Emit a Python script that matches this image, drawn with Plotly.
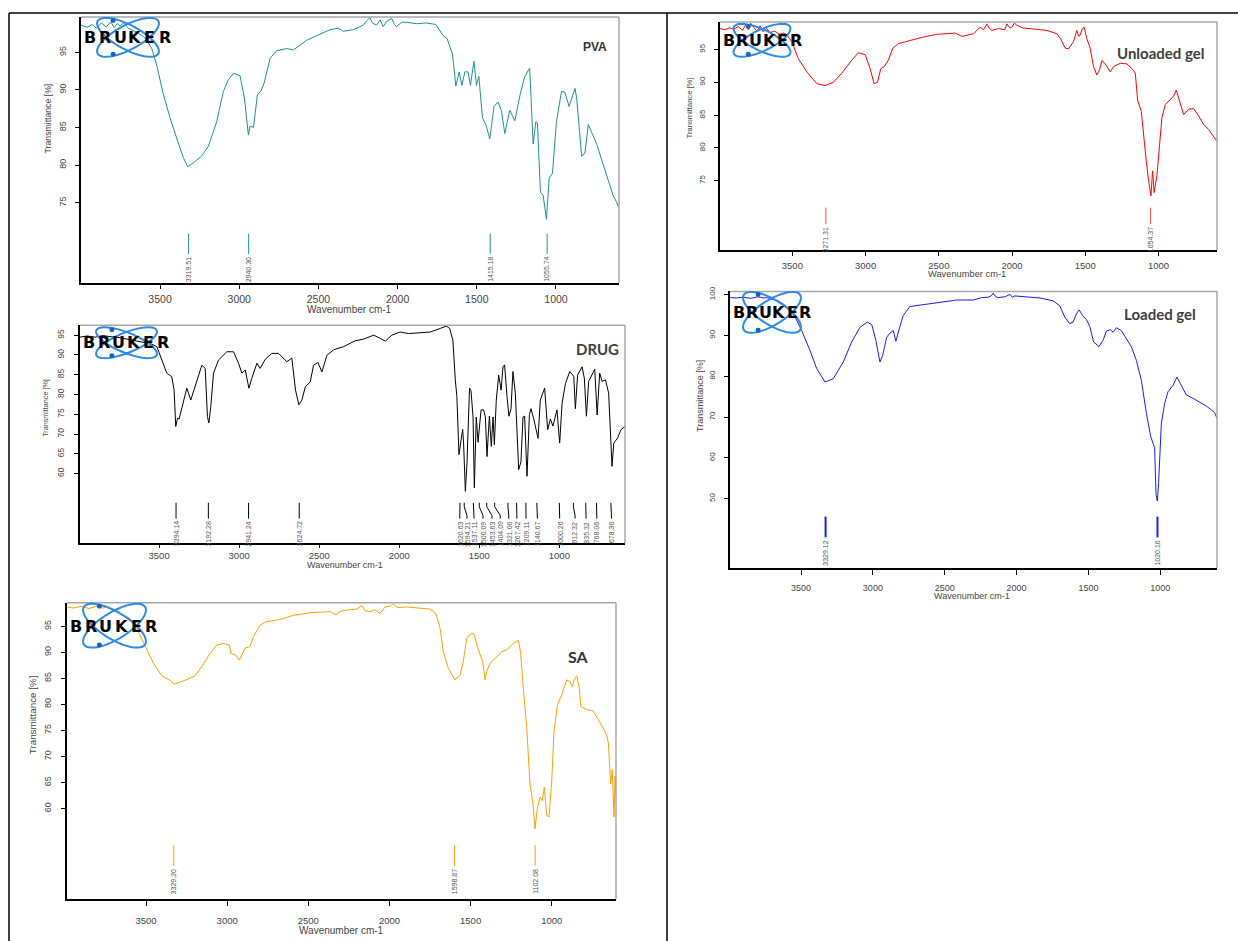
import math
import plotly.graph_objects as go

W, H = 1238, 941
SHIFT_Y = 3  # small global vertical correction

# ---------------- DATA ----------------
pva_wn = [3999, 3960, 3930, 3900, 3870, 3840, 3810, 3790, 3770, 3752, 3730, 3700, 3670, 3640, 3620, 3605, 3580, 3552,
          3521, 3479, 3437, 3395, 3353, 3326, 3290, 3238, 3195, 3142, 3100, 3070, 3037, 2995, 2967, 2942, 2931, 2910,
          2885, 2864, 2843, 2805, 2764, 2700, 2658, 2574, 2490, 2427, 2374, 2343, 2280, 2250, 2217, 2195, 2175, 2160,
          2133, 2110, 2091, 2070, 2038, 2020, 2006, 1975, 1943, 1880, 1820, 1758, 1712, 1687, 1653, 1632, 1611, 1594,
          1575, 1555, 1540, 1518, 1502, 1487, 1464, 1443, 1418, 1391, 1366, 1344, 1323, 1292, 1260, 1224, 1197, 1166,
          1155, 1144, 1127, 1117, 1098, 1081, 1060, 1043, 1022, 997, 965, 944, 917, 880, 869, 838, 817, 796, 743, 701,
          670, 638, 620, 604]
pva_t = [98.6, 98.3, 98.7, 98.2, 98.9, 98.4, 99.0, 98.3, 98.8, 98.5, 98.9, 98.2, 97.9, 97.6, 97.3, 97.1, 96.5, 95.5,
         93.3, 89.4, 86.3, 83.6, 81.0, 79.8, 80.3, 81.2, 82.5, 85.8, 89.8, 91.3, 92.2, 91.9, 88.9, 84.0, 85.2, 85.0,
         89.4, 89.8, 90.9, 94.2, 95.2, 95.5, 95.3, 96.6, 97.4, 98.0, 98.2, 97.8, 98.0, 98.3, 98.6, 99.2, 99.6, 98.9,
         98.6, 99.3, 98.4, 99.1, 99.5, 98.7, 98.4, 99.0, 99.0, 98.8, 98.9, 98.7, 97.2, 96.8, 94.7, 90.5, 92.4, 90.6,
         92.4, 92.4, 90.6, 93.8, 90.6, 91.8, 86.3, 85.4, 83.5, 87.8, 88.4, 87.2, 84.2, 87.3, 85.9, 89.6, 91.8, 92.9,
         88.0, 82.8, 85.8, 85.6, 76.4, 76.0, 72.8, 78.3, 78.9, 85.8, 89.8, 89.7, 87.8, 90.2, 88.9, 81.2, 81.6, 85.4,
         82.8, 80.1, 77.9, 75.9, 75.2, 74.4]
pva_peaks = [3319.51, 2940.30, 1415.18, 1055.74]

drug_wn = [3994, 3950, 3900, 3850, 3800, 3750, 3700, 3650, 3600, 3550, 3514, 3483, 3452, 3421, 3406, 3396, 3385, 3375,
           3348, 3327, 3302, 3271, 3233, 3212, 3198, 3189, 3177, 3160, 3129, 3077, 3035, 3004, 2983, 2962, 2939, 2921,
           2889, 2869, 2837, 2796, 2754, 2702, 2671, 2648, 2627, 2608, 2587, 2556, 2535, 2508, 2483, 2452, 2410, 2348,
           2275, 2223, 2160, 2119, 2087, 2046, 1994, 1942, 1869, 1806, 1744, 1706, 1685, 1665, 1650, 1640, 1627, 1614,
           1604, 1598, 1587, 1577, 1567, 1561, 1552, 1539, 1531, 1519, 1508, 1489, 1473, 1462, 1452, 1437, 1425, 1414,
           1406, 1394, 1379, 1364, 1352, 1342, 1327, 1315, 1302, 1290, 1275, 1265, 1254, 1240, 1227, 1217, 1202, 1187,
           1177, 1160, 1144, 1133, 1119, 1092, 1073, 1056, 1040, 1015, 998, 983, 962, 935, 910, 900, 886, 858, 844, 831,
           817, 800, 779, 764, 748, 733, 712, 692, 681, 671, 660, 636, 615, 590]
drug_t = [94.5, 94.8, 94.5, 94.9, 94.6, 94.4, 94.0, 93.6, 93.3, 92.8, 92.1, 88.7, 85.4, 84.5, 81.1, 71.9, 74.0, 73.8,
          78.6, 81.6, 78.6, 82.8, 87.4, 86.6, 74.4, 72.8, 77.0, 85.4, 88.7, 90.8, 90.8, 87.9, 85.4, 86.2, 81.6, 84.1,
          87.9, 86.6, 88.9, 90.4, 90.4, 88.3, 89.2, 81.1, 77.4, 78.6, 81.9, 83.2, 87.4, 88.1, 85.7, 89.9, 91.3, 92.1,
          93.6, 94.0, 95.0, 94.2, 93.5, 95.0, 95.8, 95.4, 95.6, 95.8, 96.7, 97.3, 96.7, 93.7, 83.7, 79.5, 64.8, 68.7,
          71.2, 67.5, 55.5, 62.6, 77.8, 81.6, 81.0, 74.3, 56.4, 74.3, 67.9, 76.1, 76.1, 74.3, 64.3, 74.5, 66.9, 74.3,
          67.3, 78.6, 84.9, 81.1, 87.0, 87.5, 79.5, 74.5, 76.4, 85.8, 80.3, 71.2, 61.0, 62.9, 74.3, 74.5, 59.3, 74.9,
          76.4, 73.8, 70.4, 68.9, 78.6, 81.6, 71.1, 73.8, 72.0, 76.1, 67.7, 77.8, 82.8, 85.8, 84.6, 76.4, 84.9, 87.0,
          84.1, 74.5, 83.3, 84.6, 86.4, 74.8, 85.4, 83.3, 83.7, 80.3, 71.9, 61.8, 67.7, 69.0, 71.1, 71.9]
drug_peaks = [3394.14, 3192.28, 2941.24, 2624.72, 1620.63, 1594.21, 1537.11, 1500.09, 1453.63, 1404.09, 1321.06,
              1267.42, 1209.11, 1140.67, 1000.26, 912.32, 835.32, 768.06, 678.36]
drug_label_wn = [3394.14, 3192.28, 2941.24, 2624.72, 1622, 1577, 1533, 1477, 1421, 1369, 1316,
                 1265, 1208, 1137, 998, 902, 833, 766, 674]

sa_wn = [3987, 3950, 3900, 3850, 3800, 3770, 3742, 3700, 3660, 3630, 3598, 3557, 3506, 3455, 3403, 3352, 3325, 3270,
         3198, 3156, 3105, 3064, 3023, 2986, 2978, 2950, 2925, 2910, 2890, 2860, 2839, 2797, 2767, 2674, 2592, 2489,
         2366, 2330, 2300, 2263, 2200, 2171, 2150, 2120, 2090, 2058, 2028, 1995, 1976, 1950, 1894, 1820, 1750, 1713,
         1688, 1668, 1637, 1596, 1565, 1545, 1524, 1493, 1479, 1452, 1425, 1411, 1401, 1380, 1349, 1308, 1277, 1237,
         1206, 1192, 1175, 1154, 1134, 1117, 1103, 1089, 1072, 1058, 1046, 1031, 1017, 1000, 986, 965, 939, 908, 888,
         873, 861, 846, 830, 821, 784, 744, 713, 682, 662, 651, 637, 627, 616, 610, 604]
sa_t = [98.7, 98.5, 98.8, 98.4, 98.9, 98.5, 98.7, 98.0, 97.4, 97.0, 96.5, 94.6, 91.4, 87.9, 85.5, 84.6, 83.9, 84.5,
        85.5, 87.3, 89.8, 91.4, 91.7, 91.4, 89.8, 89.5, 88.5, 89.5, 90.8, 91.1, 93.0, 95.2, 95.8, 96.3, 97.1, 97.6,
        97.8, 97.2, 97.9, 98.1, 98.3, 99.0, 98.0, 97.8, 98.2, 97.4, 98.7, 98.9, 99.3, 98.6, 98.7, 98.5, 98.3, 97.4,
        94.6, 90.1, 86.9, 84.7, 85.6, 88.2, 92.7, 93.7, 93.4, 90.5, 88.2, 84.7, 86.3, 87.9, 88.9, 90.1, 90.5, 91.7,
        92.3, 90.1, 83.1, 75.5, 64.7, 61.3, 56.1, 60.0, 62.2, 61.5, 64.1, 58.7, 58.4, 65.3, 74.8, 79.9, 81.8, 84.7, 84.4,
        83.4, 84.7, 85.5, 83.1, 79.6, 79.0, 78.7, 77.1, 75.5, 74.2, 72.6, 64.7, 67.5, 58.4, 66.2, 62.4]
sa_peaks = [3329.20, 1598.87, 1102.08]

ul_wn = [3994, 3960, 3930, 3900, 3870, 3840, 3820, 3800, 3785, 3766, 3740, 3720, 3700, 3675, 3652, 3620, 3590, 3560,
         3538, 3504, 3459, 3402, 3333, 3277, 3220, 3162, 3094, 3049, 3003, 2969, 2942, 2919, 2896, 2873, 2844, 2814,
         2776, 2696, 2605, 2514, 2389, 2343, 2300, 2263, 2218, 2195, 2172, 2155, 2138, 2092, 2050, 2035, 2015, 2001,
         1985, 1967, 1930, 1876, 1820, 1762, 1694, 1671, 1637, 1614, 1581, 1558, 1545, 1535, 1520, 1508, 1490, 1467,
         1444, 1421, 1403, 1387, 1364, 1330, 1307, 1262, 1216, 1182, 1159, 1143, 1118, 1102, 1084, 1068, 1052, 1041,
         1030, 1011, 993, 977, 954, 920, 897, 879, 856, 829, 795, 761, 727, 693, 658, 636, 620, 601]
ul_t = [98.2, 98.0, 98.3, 98.1, 98.5, 97.9, 98.7, 98.0, 99.0, 98.4, 97.8, 98.6, 97.7, 98.2, 97.6, 97.8, 97.3, 97.5,
        97.2, 96.2, 93.6, 91.6, 89.8, 89.5, 90.0, 91.4, 93.4, 94.5, 94.2, 92.1, 89.8, 90.0, 92.1, 92.4, 93.4, 95.2,
        95.9, 96.4, 96.9, 97.3, 97.5, 97.0, 97.2, 97.4, 98.4, 98.0, 98.9, 98.2, 97.9, 98.2, 98.0, 98.9, 98.3, 98.4,
        99.0, 98.7, 98.3, 98.2, 98.1, 97.9, 97.4, 96.7, 95.2, 95.1, 96.2, 97.9, 97.0, 97.2, 98.2, 98.4, 96.7, 95.2,
        92.4, 91.1, 91.9, 93.3, 92.8, 91.6, 92.4, 92.9, 92.8, 92.1, 91.4, 87.3, 85.6, 81.5, 78.0, 75.0, 72.7, 76.5,
        73.2, 75.8, 80.6, 84.6, 86.6, 87.4, 87.9, 88.8, 87.1, 85.1, 85.9, 86.0, 84.9, 83.6, 82.8, 82.1, 81.6, 81.0]
ul_peaks = [3271.31, 1054.37]

ld_wn = [3994, 3950, 3900, 3850, 3800, 3760, 3738, 3700, 3660, 3623, 3580, 3540, 3495, 3437, 3391, 3333, 3276, 3206,
         3148, 3090, 3039, 3008, 2979, 2951, 2932, 2904, 2881, 2858, 2840, 2817, 2789, 2743, 2650, 2557, 2418, 2302,
         2244, 2198, 2175, 2163, 2145, 2128, 2080, 2047, 2030, 2012, 1931, 1838, 1746, 1700, 1665, 1630, 1607, 1584,
         1565, 1542, 1514, 1491, 1464, 1427, 1399, 1375, 1348, 1329, 1306, 1271, 1236, 1201, 1167, 1132, 1097, 1067,
         1047, 1040, 1030, 1021, 1012, 1005, 993, 970, 947, 912, 885, 861, 819, 773, 727, 680, 646, 623, 607]
ld_t = [99.3, 99.2, 99.4, 99.1, 99.5, 99.2, 99.3, 98.9, 98.5, 97.7, 96.3, 94.5, 91.2, 86.3, 81.9, 78.6, 79.4, 83.5,
        88.4, 92.0, 93.3, 92.7, 88.8, 83.5, 85.1, 89.6, 90.6, 91.2, 88.6, 91.6, 94.9, 97.1, 97.6, 98.1, 98.7, 98.7,
        99.3, 99.4, 99.8, 100.4, 99.5, 99.3, 99.5, 100.1, 99.4, 99.7, 99.5, 99.2, 98.5, 97.3, 94.5, 92.9, 93.3, 95.3,
        96.3, 94.9, 93.9, 92.2, 88.4, 87.3, 88.8, 91.1, 91.4, 90.8, 91.9, 91.2, 89.2, 87.2, 83.9, 79.0, 70.9, 65.2,
        63.2, 62.5, 51.0, 49.4, 54.0, 60.0, 68.5, 73.4, 76.2, 77.8, 79.8, 78.2, 75.4, 74.6, 73.7, 72.7, 71.8, 71.1, 69.8]
ld_peaks = [3329.12, 1020.16]

x_ticks = [3500, 3000, 2500, 2000, 1500, 1000]
tick_text = ["3500", "3000", "2500", "2000", "1500", "1000"]

# ---------------- PANEL STYLES ----------------
panels = [
    dict(name="PVA", wn=pva_wn, t=pva_t, peaks=pva_peaks, labx=pva_peaks, color="#1f9090", mcolor="#1f9090", mw=1,
         box=(81, 15, 619, 282), xr=(3999, 602), yr=(64.4, 99.7), yt=[75, 80, 85, 90, 95], mk=(70.9, 68.2),
         title=dict(x=595, y=45, size=12, fam="Liberation Sans", col="#333"),
         ytl=dict(x=48, y=117, size=8.7), xtl=dict(x=349, y=309, size=10), xfs=10.5, yfs=9, xso=1, yso=6, tl=5,
         logo=dict(cx=128, cy=35.5, w=62, h=39, tx0=83, tx1=172, ty=36)),
    dict(name="DRUG", wn=drug_wn, t=drug_t, peaks=drug_peaks, labx=drug_label_wn, color="#000000", mcolor="#000000",
         mw=1, box=(80, 325, 625, 544), xr=(3994, 590), yr=(42.4, 97.5), yt=[60, 65, 70, 75, 80, 85, 90, 95],
         mk=(52.6, 48.6), title=dict(x=597, y=349, size=15, fam="Lato", col="#404040"),
         ytl=dict(x=46, y=408, size=7.2), xtl=dict(x=345, y=566, size=9), xfs=9.5, yfs=8.5, xso=0, yso=7, tl=3,
         logo=dict(cx=126.5, cy=342.5, w=61, h=31, tx0=82, tx1=170, ty=342)),
    dict(name="SA", wn=sa_wn, t=sa_t, peaks=sa_peaks, labx=sa_peaks, color="#ffa000", mcolor="#ffa000", mw=1,
         box=(67, 604, 616, 902), xr=(3987, 604), yr=(42.6, 99.5), yt=[60, 65, 70, 75, 80, 85, 90, 95],
         mk=(53.0, 49.0), title=dict(x=578, y=658, size=16, fam="Lato", col="#333"),
         ytl=dict(x=32, y=717, size=9.8), xtl=dict(x=341, y=933, size=10), xfs=9.5, yfs=9, xso=7, yso=7, tl=5,
         logo=dict(cx=114.5, cy=627, w=63, h=44, tx0=68, tx1=159, ty=628)),
    dict(name="Unloaded gel", wn=ul_wn, t=ul_t, peaks=ul_peaks, labx=ul_peaks, color="#ff0000", mcolor="#ff5050",
         mw=1, box=(720, 20, 1217, 249), xr=(3994, 601), yr=(64.5, 99.2), yt=[75, 80, 85, 90, 95], mk=(70.9, 68.4),
         title=dict(x=1161, y=51, size=15, fam="Lato", col="#404040"),
         ytl=dict(x=689, y=107, size=7.6), xtl=dict(x=967, y=273, size=9.3), xfs=9.5, yfs=8, xso=1, yso=6, tl=5,
         logo=dict(cx=762, cy=38.5, w=57, h=33, tx0=722, tx1=803, ty=39)),
    dict(name="Loaded gel", wn=ld_wn, t=ld_t, peaks=ld_peaks, labx=ld_peaks, color="#1a1aff", mcolor="#1a1aff",
         mw=2, box=(730, 291, 1217, 569), xr=(3994, 606), yr=(33.0, 100.8), yt=[50, 60, 70, 80, 90, 100],
         mk=(45.6, 40.5), title=dict(x=1160, y=314, size=15, fam="Lato", col="#404040"),
         ytl=dict(x=700, y=396, size=9), xtl=dict(x=972, y=597, size=9), xfs=9, yfs=8, xso=5, yso=6, tl=5,
         logo=dict(cx=772, cy=312, w=58, h=41, tx0=732, tx1=812, ty=312)),
]

fig = go.Figure()
shapes = []
annotations = []


def px(x):
    return x / W


def py(y):
    return 1 - (y - SHIFT_Y) / H


def paper_text(x, y, text, size, family="Liberation Sans", color="#444", angle=0):
    return dict(x=px(x), y=py(y), xref="paper", yref="paper", text=text, textangle=angle, showarrow=False,
                xanchor="center", yanchor="middle", font=dict(family=family, size=size, color=color))


def ellipse_path(cx, cy, w, h, sign):
    th = math.radians(28 * sign)
    sx = (w / 2) / 0.9
    sy = (h / 2) / 0.562
    pts = []
    for k in range(61):
        u = 2 * math.pi * k / 60
        ex = math.cos(u) * math.cos(th) - 0.353 * math.sin(u) * math.sin(th)
        ey = math.cos(u) * math.sin(th) + 0.353 * math.sin(u) * math.cos(th)
        pts.append((px(cx + ex * sx), py(cy + ey * sy)))
    return "M " + " L ".join(f"{a:.5f},{b:.5f}" for a, b in pts) + " Z"


for i, p in enumerate(panels, start=1):
    xa = "x" if i == 1 else f"x{i}"
    ya = "y" if i == 1 else f"y{i}"
    x0, y0, x1, y1 = p["box"]
    fig.add_trace(go.Scatter(x=p["wn"], y=p["t"], mode="lines", xaxis=xa, yaxis=ya,
                             line=dict(color=p["color"], width=1), showlegend=False, hoverinfo="skip"))
    # peak markers
    mx, my = [], []
    top, bot = p["mk"]
    mid = top - (top - bot) * 0.25
    mid2 = top - (top - bot) * 0.8
    for pk, lx in zip(p["peaks"], p["labx"]):
        mx += [pk, pk, lx, lx, None]
        my += [top, mid, mid2, bot, None]
        annotations.append(dict(x=lx, y=bot - (top - bot) * 0.06, xref=xa, yref=ya, text=f"{pk:.2f}",
                                textangle=-90, showarrow=False, xanchor="center", yanchor="top",
                                font=dict(family="Liberation Sans", size=7, color="#555")))
    fig.add_trace(go.Scatter(x=mx, y=my, mode="lines", xaxis=xa, yaxis=ya,
                             line=dict(color=p["mcolor"], width=p["mw"]), showlegend=False, hoverinfo="skip"))

    axkey = "xaxis" if i == 1 else f"xaxis{i}"
    aykey = "yaxis" if i == 1 else f"yaxis{i}"
    fig.update_layout({
        axkey: dict(domain=[px(x0), px(x1)], anchor=ya, range=list(p["xr"]), tickvals=x_ticks, ticktext=tick_text,
                    ticks="outside", ticklen=p["tl"], tickwidth=1, tickcolor="black", showline=True,
                    linecolor="black", linewidth=1.5, showgrid=False, zeroline=False, ticklabelstandoff=p["xso"],
                    tickfont=dict(family="Liberation Sans", size=p["xfs"], color="#444")),
        aykey: dict(domain=[py(y1), py(y0)], anchor=xa, range=list(p["yr"]), tickvals=p["yt"],
                    ticks="outside", ticklen=4, tickwidth=1, tickcolor="black", showline=True, linecolor="black",
                    linewidth=1.5, showgrid=False, zeroline=False, tickangle=-90, ticklabelstandoff=p["yso"],
                    tickfont=dict(family="Liberation Sans", size=p["yfs"], color="#444")),
    })
    # gray top/right frame
    shapes.append(dict(type="line", xref="paper", yref="paper", x0=px(x0), x1=px(x1), y0=py(y0), y1=py(y0),
                       line=dict(color="#a6a6a6", width=1.5)))
    shapes.append(dict(type="line", xref="paper", yref="paper", x0=px(x1), x1=px(x1), y0=py(y0), y1=py(y1),
                       line=dict(color="#a6a6a6", width=1.5)))
    # titles
    t = p["title"]
    annotations.append(paper_text(t["x"], t["y"], f"<b>{p['name']}</b>", t["size"], t["fam"], t["col"]))
    yt = p["ytl"]
    annotations.append(paper_text(yt["x"], yt["y"], "Transmittance [%]", yt["size"], angle=-90))
    xt = p["xtl"]
    annotations.append(paper_text(xt["x"], xt["y"], "Wavenumber cm-1", xt["size"]))
    # Bruker logo
    lg = p["logo"]
    for s in (1, -1):
        shapes.append(dict(type="path", xref="paper", yref="paper",
                           path=ellipse_path(lg["cx"], lg["cy"], lg["w"], lg["h"], s),
                           line=dict(color="#2b8be6", width=2)))
    for dy in (-1, 1):
        dcx = lg["cx"] - 0.24 * lg["w"]
        dcy = lg["cy"] + dy * (lg["h"] / 2 - 2.5)
        shapes.append(dict(type="circle", xref="paper", yref="paper", x0=px(dcx - 2.5), x1=px(dcx + 2.5),
                           y0=py(dcy - 2.5), y1=py(dcy + 2.5), fillcolor="#1565c0", line=dict(width=0)))
    step = (lg["tx1"] - lg["tx0"]) / 6
    for k, ch in enumerate("BRUKER"):
        annotations.append(paper_text(lg["tx0"] + (k + 0.5) * step, lg["ty"], f"<b>{ch}</b>", 16,
                                      "DejaVu Sans", "black"))

# outer table lines
shapes.append(dict(type="line", xref="paper", yref="paper", x0=px(9), x1=px(1238), y0=py(11), y1=py(11),
                   line=dict(color="black", width=1.5)))
shapes.append(dict(type="line", xref="paper", yref="paper", x0=px(9), x1=px(9), y0=py(11), y1=py(944),
                   line=dict(color="black", width=1.5)))
shapes.append(dict(type="line", xref="paper", yref="paper", x0=px(667), x1=px(667), y0=py(11), y1=py(944),
                   line=dict(color="black", width=1.5)))

fig.update_layout(width=W, height=H, margin=dict(l=0, r=0, t=0, b=0), paper_bgcolor="white",
                  plot_bgcolor="white", shapes=shapes, annotations=annotations, showlegend=False)

fig.write_html("out.html", config={"displayModeBar": False},
               post_script="document.body.style.margin='0';document.documentElement.style.overflow='hidden';")
